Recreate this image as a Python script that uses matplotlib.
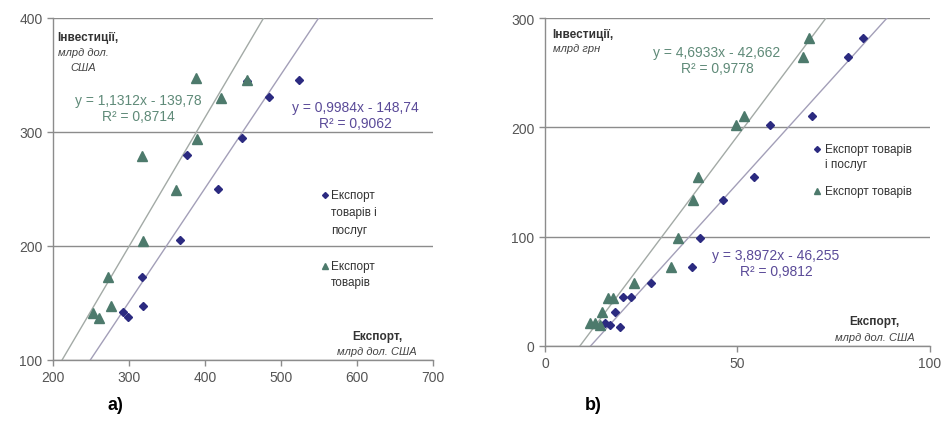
import numpy as np
import matplotlib.pyplot as plt

plt.rcParams['font.family'] = ['Liberation Sans', 'DejaVu Sans']

# a) export vs investments, bn USD
a_goods_serv_x = [524, 484, 455, 449, 376, 417, 367, 317, 318, 292, 299]
a_goods_serv_y = [346, 331, 345, 295, 280, 250, 205, 173, 147, 142, 138]
a_goods_x = [388, 455, 421, 389, 317, 362, 318, 272, 277, 253, 261]
a_goods_y = [347, 346, 330, 294, 279, 249, 204, 173, 147, 141, 137]
a_fit_gs = (0.9984, -148.74)
a_fit_g = (1.1312, -139.78)

# b) export (bn USD) vs investments (bn UAH)
b_goods_serv_x = [82.5, 78.7, 69.3, 58.4, 54.3, 46.2, 40.3, 38.2, 27.5, 22.3, 20.3, 18.2, 15.6, 16.9, 19.5]
b_goods_serv_y = [282, 264, 210, 202, 155, 134, 99, 72, 58, 45, 45, 31, 21, 19, 17]
b_goods_x = [68.6, 67.0, 51.7, 49.6, 39.7, 38.4, 34.5, 32.7, 23.1, 16.4, 17.7, 14.8, 11.7, 13.0, 14.3]
b_goods_y = [282, 264, 210, 202, 155, 134, 99, 72, 58, 44, 44, 31, 21, 21, 19]
b_fit_gs = (3.8972, -46.255)
b_fit_g = (4.6933, -42.662)

c_dia = '#2b2a80'
c_tri = '#4d7a6c'
c_eq_g = '#5f8a78'
c_eq_gs = '#5a4a98'
c_grid = '#8c8c8c'
c_tick = '#555555'
c_txt = '#333333'

fig = plt.figure(figsize=(9.46, 4.27), dpi=100)
ax1 = fig.add_axes([0.056, 0.1546, 0.4017, 0.801])
ax2 = fig.add_axes([0.576, 0.1874, 0.407, 0.768])


def style(ax, xlim, ylim, xt, yt):
    ax.set_xlim(*xlim)
    ax.set_ylim(*ylim)
    ax.set_xticks(xt)
    ax.set_yticks(yt)
    ax.spines['top'].set_visible(False)
    ax.spines['right'].set_visible(False)
    for s in ('left', 'bottom'):
        ax.spines[s].set_color(c_grid)
        ax.spines[s].set_linewidth(1.0)
    ax.tick_params(colors=c_grid, labelcolor=c_tick, labelsize=10, length=4, width=1)
    ax.yaxis.grid(True, color=c_grid, linewidth=1.0)
    ax.set_axisbelow(True)


def draw(ax, xgs, ygs, xg, yg, fit_gs, fit_g, xlim):
    xs = np.array(xlim, dtype=float)
    ax.plot(xs, fit_g[0] * xs + fit_g[1], color='#a3aaa6', lw=1.0, zorder=2)
    ax.plot(xs, fit_gs[0] * xs + fit_gs[1], color='#a39fb8', lw=1.0, zorder=2)
    ax.plot(xgs, ygs, 'D', color=c_dia, ms=4.5, ls='none', zorder=3)
    ax.plot(xg, yg, '^', color=c_tri, ms=7, ls='none', zorder=3)


def lines(ax, x, ys, texts, **kw):
    for y, t in zip(ys, texts):
        ax.text(x, y, t, transform=ax.transAxes, va='center', **kw)


def legend(ax, xm, xt, ys_d, lines_d, ys_t, lines_t):
    ax.plot([xm], [ys_d[0]], 'D', color=c_dia, ms=3, transform=ax.transAxes)
    ax.plot([xm], [ys_t[0]], '^', color=c_tri, ms=5, transform=ax.transAxes)
    lines(ax, xt, ys_d, lines_d, fontsize=8.5, color=c_txt, ha='left')
    lines(ax, xt, ys_t, lines_t, fontsize=8.5, color=c_txt, ha='left')


# panel a
style(ax1, (200, 700), (100, 400), range(200, 701, 100), range(100, 401, 100))
draw(ax1, a_goods_serv_x, a_goods_serv_y, a_goods_x, a_goods_y, a_fit_gs, a_fit_g, (200, 700))
ax1.text(0.01, 0.945, 'Інвестиції,', transform=ax1.transAxes, fontsize=8.5,
         fontweight='bold', color=c_txt, va='center', ha='left')
lines(ax1, 0.079, [0.90, 0.857], ['млрд дол.', 'США'], fontsize=8,
      style='italic', color='#444444', ha='center')
ax1.text(0.224, 0.737, 'y = 1,1312x - 139,78\nR² = 0,8714', transform=ax1.transAxes,
         fontsize=10, color=c_eq_g, ha='center', va='center', linespacing=1.25)
ax1.text(0.795, 0.716, 'y = 0,9984x - 148,74\nR² = 0,9062', transform=ax1.transAxes,
         fontsize=10, color=c_eq_gs, ha='center', va='center', linespacing=1.25)
legend(ax1, 0.716, 0.732, [0.482, 0.433, 0.380], ['Експорт', 'товарів і', 'послуг'],
       [0.275, 0.228], ['Експорт', 'товарів'])
ax1.text(0.853, 0.070, 'Експорт,', transform=ax1.transAxes, fontsize=8.5,
         fontweight='bold', color=c_txt, ha='center', va='center')
ax1.text(0.853, 0.026, 'млрд дол. США', transform=ax1.transAxes, fontsize=8,
         style='italic', color='#444444', ha='center', va='center')
fig.text(0.122, 0.04, 'a)', fontsize=13, fontweight='bold', ha='center')

# panel b
style(ax2, (0, 100), (0, 300), [0, 50, 100], [0, 100, 200, 300])
draw(ax2, b_goods_serv_x, b_goods_serv_y, b_goods_x, b_goods_y, b_fit_gs, b_fit_g, (0, 100))
ax2.text(0.02, 0.95, 'Інвестиції,', transform=ax2.transAxes, fontsize=8.5,
         fontweight='bold', color=c_txt, va='center', ha='left')
ax2.text(0.02, 0.91, 'млрд грн', transform=ax2.transAxes, fontsize=8,
         style='italic', color='#444444', va='center', ha='left')
ax2.text(0.447, 0.872, 'y = 4,6933x - 42,662\nR² = 0,9778', transform=ax2.transAxes,
         fontsize=10, color=c_eq_g, ha='center', va='center', linespacing=1.25)
ax2.text(0.600, 0.253, 'y = 3,8972x - 46,255\nR² = 0,9812', transform=ax2.transAxes,
         fontsize=10, color=c_eq_gs, ha='center', va='center', linespacing=1.25)
legend(ax2, 0.706, 0.727, [0.60, 0.555], ['Експорт товарів', 'і послуг'],
       [0.473], ['Експорт товарів'])
ax2.text(0.857, 0.076, 'Експорт,', transform=ax2.transAxes, fontsize=8.5,
         fontweight='bold', color=c_txt, ha='center', va='center')
ax2.text(0.857, 0.027, 'млрд дол. США', transform=ax2.transAxes, fontsize=8,
         style='italic', color='#444444', ha='center', va='center')
fig.text(0.627, 0.04, 'b)', fontsize=13, fontweight='bold', ha='center')

fig.savefig('out.png', dpi=100)
